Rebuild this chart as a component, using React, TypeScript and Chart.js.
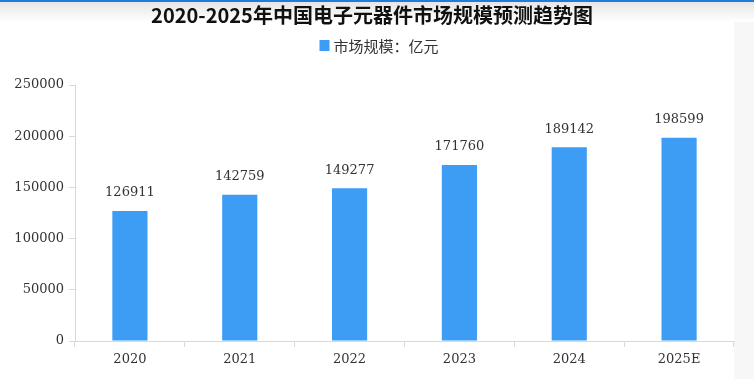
import React, { useEffect, useRef } from "react";
import { Chart, registerables } from "chart.js";

Chart.register(...registerables);

const categories = ["2020", "2021", "2022", "2023", "2024", "2025E"];
const marketSize = [126911, 142759, 149277, 171760, 189142, 198599];
const titleText = "2020-2025年中国电子元器件市场规模预测趋势图";
const legendText = "市场规模：亿元";
const yMax = 250000;
const yStep = 50000;

const BAR_COLOR = "#3d9cf4";
const NUM_FONT = "'DejaVu Serif', serif";
const CJK_FONT = "'Noto Sans CJK SC', sans-serif";

export default function App() {
  const ref = useRef<HTMLCanvasElement>(null);

  useEffect(() => {
    if (!ref.current) return;
    const headerPlugin = {
      id: "header",
      afterDraw(chart: any) {
        const ctx = chart.ctx;
        ctx.save();
        ctx.fillStyle = "#111";
        ctx.font = `bold 20px ${CJK_FONT}`;
        ctx.textAlign = "center";
        ctx.textBaseline = "middle";
        ctx.fillText(titleText, 372, 15);
        ctx.font = `15px ${CJK_FONT}`;
        ctx.textAlign = "left";
        const tw = ctx.measureText(legendText).width;
        const total = 10 + 4 + tw;
        const sx = 379 - total / 2;
        ctx.fillStyle = BAR_COLOR;
        ctx.fillRect(sx, 40, 10, 11);
        ctx.fillStyle = "#333";
        ctx.fillText(legendText, sx + 14, 46);
        ctx.restore();
      },
    };
    const labelPlugin = {
      id: "valueLabels",
      afterDatasetsDraw(chart: any) {
        const ctx = chart.ctx;
        const meta = chart.getDatasetMeta(0);
        ctx.save();
        ctx.fillStyle = "#333";
        ctx.font = `13px ${NUM_FONT}`;
        ctx.textAlign = "center";
        ctx.textBaseline = "middle";
        meta.data.forEach((bar: any, i: number) => {
          ctx.fillText(String(marketSize[i]), bar.x, bar.y - 18);
        });
        ctx.restore();
      },
    };
    const chart = new Chart(ref.current, {
      type: "bar",
      data: {
        labels: categories,
        datasets: [
          {
            label: legendText,
            data: marketSize,
            backgroundColor: BAR_COLOR,
            borderWidth: 0,
            categoryPercentage: 0.4,
            barPercentage: 0.8,
          },
        ],
      },
      options: {
        responsive: false,
        animation: false,
        layout: { padding: { left: 0, right: 20, top: 85, bottom: 0 } },
        plugins: {
          legend: { display: false },
          title: { display: false },
          tooltip: { enabled: false },
        },
        scales: {
          x: {
            grid: {
              display: true,
              drawOnChartArea: false,
              offset: true,
              tickLength: 6,
              color: "#d9d9d9",
            },
            border: { color: "#d9d9d9" },
            ticks: {
              color: "#333",
              font: { family: NUM_FONT, size: 13 },
              padding: 5,
            },
            afterFit(scale: any) {
              scale.height = 38;
            },
          },
          y: {
            min: 0,
            max: yMax,
            grid: {
              display: true,
              drawOnChartArea: false,
              tickLength: 6,
              color: "#d9d9d9",
            },
            border: { color: "#d9d9d9" },
            ticks: {
              stepSize: yStep,
              color: "#333",
              font: { family: NUM_FONT, size: 13 },
              padding: 5,
              callback: (v: any) => String(v),
            },
            afterFit(scale: any) {
              scale.width = 75;
            },
          },
        },
      },
      plugins: [headerPlugin, labelPlugin],
    });
    return () => chart.destroy();
  }, []);

  return (
    <div
      style={{
        position: "fixed",
        left: 0,
        top: 0,
        width: 754,
        height: 379,
        background:
          "linear-gradient(to bottom, #1e7be0 0px, #1e7be0 2px, #e6e6e6 2px, #ffffff 22px)",
        overflow: "hidden",
      }}
    >
      <div
        style={{
          position: "absolute",
          left: 734,
          top: 22,
          width: 20,
          height: 357,
          background: "#f7f7f7",
        }}
      />
      <canvas
        ref={ref}
        width={754}
        height={379}
        style={{ position: "absolute", left: 0, top: 0, width: 754, height: 379 }}
      />
    </div>
  );
}
